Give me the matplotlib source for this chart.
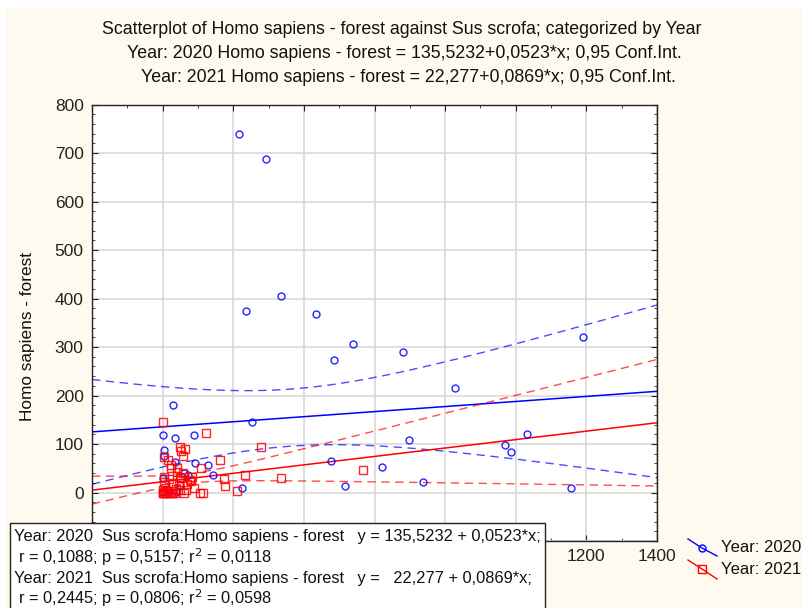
import numpy as np
import matplotlib.pyplot as plt
from matplotlib.lines import Line2D
from matplotlib.patches import Rectangle
from matplotlib.ticker import MultipleLocator, FuncFormatter

plt.rcParams['font.family'] = ['Liberation Sans', 'DejaVu Sans']

# Year 2020 (blue circles)
x_2020 = [216, 292, 334, 235, 433, 540, 485, 681, 30, 254, 1, 35, 89, 698, 4,
          478, 622, 738, 516, 226, 93, 129, 144, 36, 5, 72, 60, 827, 1031, 970,
          986, 1191, 1156, 0, 37, 0, 15, 50]
y_2020 = [740, 689, 406, 375, 368, 306, 273, 290, 180, 146, 119, 112, 119, 108, 88,
          64, 52, 21, 14, 9, 61, 56, 37, 62, 75, 37, 40, 215, 121, 97,
          83, 321, 10, 30, 2, 2, 5, 15]

# Year 2021 (red squares)
x_2021 = [1, 122, 278, 49, 63, 53, 58, 4, 16, 163, 42, 23, 110, 78, 84, 48, 175,
          232, 334, 568, 178, 210, 115, 105, 60, 3, 3, 50,
          23, 42, 59, 51, 79, 30, 45, 8, 0, 5, 10, 15, 20, 25, 0, 2, 30, 35,
          12, 65, 70, 18, 38, 88]
y_2021 = [146, 122, 94, 94, 90, 85, 75, 73, 67, 68, 51, 51, 50, 26, 33, 33, 28,
          37, 30, 47, 14, 4, 0, 0, 0, 33, 22, 5,
          57, 43, 41, 30, 23, 20, 15, 10, 5, 0, 0, 0, 0, 0, 0, 0, 0, 0,
          3, 5, 18, 28, 8, 10]

# regression coefficients shown in the chart
fit_2020 = (135.5232, 0.0523)
fit_2021 = (22.277, 0.0869)
t_2020 = 2.028   # t(0.975, 36)
t_2021 = 2.009   # t(0.975, 50)

# tick labels hidden behind the statistics box in the original
hidden_x = [-200, 0, 200, 400, 600, 800, 1000]
hidden_y = [-100]

fig = plt.figure(figsize=(8.04, 6.08), dpi=100, facecolor='white')
fig.add_artist(Rectangle((6 / 804, 0), 1, 1 - 7 / 608, transform=fig.transFigure,
                         facecolor='#fffaef', edgecolor='none', zorder=-10))
ax = fig.add_axes([92 / 804, 1 - 541 / 608, 565 / 804, (541 - 104.7) / 608])
ax.set_facecolor('white')

xs = np.linspace(-200, 1400, 200)


def draw_group(x, y, fit, t, color, marker, ms):
    x = np.asarray(x, float)
    y = np.asarray(y, float)
    a, b = fit
    n = len(x)
    res = y - (a + b * x)
    s = np.sqrt(np.sum(res ** 2) / (n - 2))
    sxx = np.sum((x - x.mean()) ** 2)
    yhat = a + b * xs
    hw = t * s * np.sqrt(1 / n + (xs - x.mean()) ** 2 / sxx)
    ax.plot(x, y, linestyle='none', marker=marker, ms=ms, mfc='none',
            mec=color, mew=1.0, zorder=3, alpha=0.85)
    ax.plot(xs, yhat, color=color, lw=1.1, zorder=2)
    ax.plot(xs, yhat + hw, color=color, lw=1.0, ls=(0, (6, 4)), alpha=0.7, zorder=2)
    ax.plot(xs, yhat - hw, color=color, lw=1.0, ls=(0, (6, 4)), alpha=0.7, zorder=2)


draw_group(x_2020, y_2020, fit_2020, t_2020, '#0000ff', 'o', 5)
draw_group(x_2021, y_2021, fit_2021, t_2021, '#ff0000', 's', 6)

ax.set_xlim(-200, 1400)
ax.set_ylim(-100, 800)
ax.xaxis.set_major_locator(MultipleLocator(200))
ax.xaxis.set_minor_locator(MultipleLocator(100))
ax.yaxis.set_major_locator(MultipleLocator(100))
ax.yaxis.set_minor_locator(MultipleLocator(20))
ax.xaxis.set_major_formatter(FuncFormatter(
    lambda v, p: '' if round(v) in hidden_x else f'{v:.0f}'))
ax.yaxis.set_major_formatter(FuncFormatter(
    lambda v, p: '' if round(v) in hidden_y else f'{v:.0f}'))
ax.tick_params(which='both', direction='in', top=True, right=True, colors='#222222',
               labelsize=12.5, pad=6)
ax.tick_params(which='major', length=4)
ax.tick_params(which='minor', length=2.5)
ax.grid(True, which='major', color='#d9d9d9', lw=1.2)
ax.set_axisbelow(True)
for sp in ax.spines.values():
    sp.set_color('#222222')
    sp.set_linewidth(1.0)

fig.text(402 / 804, 1 - 30 / 608, 'Scatterplot of Homo sapiens - forest against Sus scrofa; categorized by Year',
         ha='center', va='center', fontsize=12.8, color='#111111')
fig.text(404 / 804, 1 - 53 / 608, 'Year: 2020 Homo sapiens - forest = 135,5232+0,0523*x; 0,95 Conf.Int.',
         ha='center', va='center', fontsize=12.8, color='#111111')
fig.text(408 / 804, 1 - 77 / 608, 'Year: 2021 Homo sapiens - forest = 22,277+0,0869*x; 0,95 Conf.Int.',
         ha='center', va='center', fontsize=12.8, color='#111111')
fig.text(28 / 804, 1 - 336 / 608, 'Homo sapiens - forest', rotation=90,
         ha='center', va='center', fontsize=12.4, color='#111111')

# statistics box
fig.add_artist(Rectangle((10 / 804, -0.02), 535 / 804, (608 - 523) / 608 + 0.02,
                         transform=fig.transFigure, facecolor='white',
                         edgecolor='#222222', lw=1.0, zorder=5))
box_lines = ['Year: 2020  Sus scrofa:Homo sapiens - forest   y = 135,5232 + 0,0523*x;',
             ' r = 0,1088; p = 0,5157; r$^2$ = 0,0118',
             'Year: 2021  Sus scrofa:Homo sapiens - forest   y =   22,277 + 0,0869*x;',
             ' r = 0,2445; p = 0,0806; r$^2$ = 0,0598']
for i, txt in enumerate(box_lines):
    fig.text(14 / 804, 1 - (537 + i * 20.5) / 608, txt, ha='left', va='center',
             fontsize=11.8, color='#111111', zorder=6)

# legend
for (x0, y0, x1, y1, xm, ym), col, mk, ms, lab in [
        ((688, 539, 717, 556, 702, 548), '#0000ff', 'o', 5, 'Year: 2020'),
        ((688, 560, 717, 579, 702, 569), '#ff0000', 's', 6, 'Year: 2021')]:
    fig.add_artist(Line2D([x0 / 804, xm / 804, x1 / 804],
                          [1 - y0 / 608, 1 - ym / 608, 1 - y1 / 608],
                          transform=fig.transFigure, color=col, lw=1.0,
                          marker=mk, ms=ms, mfc='none', mec=col, markevery=[1]))
    fig.text(721 / 804, 1 - ym / 608, lab, ha='left', va='center', fontsize=12,
             color='#111111')

fig.savefig('out.png', dpi=100, facecolor=fig.get_facecolor())
